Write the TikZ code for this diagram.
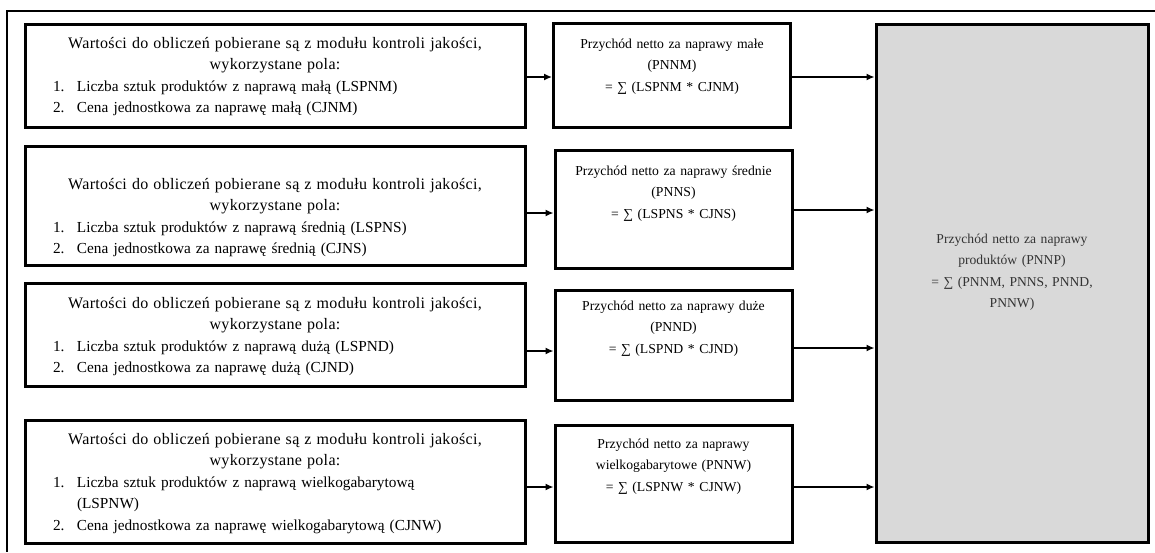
\documentclass[tikz,border=0pt]{standalone}
\usepackage{fontspec}
\setmainfont{Liberation Serif}
\usetikzlibrary{arrows.meta,positioning,calc}

\newcommand\numitem[2]{\par\hangindent=27pt\hangafter=1\noindent\makebox[27pt][l]{\hspace*{3pt}#1}#2}
\newcommand\srcfields[2]{%
  {\centering\fontsize{16}{21.5}\selectfont\addfontfeature{LetterSpace=2}%
   Wartości do obliczeń pobierane są z modułu kontroli jakości,\\ wykorzystane pola:\par}%
  \raggedright\numitem{1.}{#1}\numitem{2.}{#2}}

\begin{document}
\begin{tikzpicture}[x=1pt,y=-1pt,
  box/.style={draw=black, line width=3pt, fill=white, inner sep=0pt},
  lbox/.style={box, minimum width=500pt},
  mbox/.style={box, minimum width=237pt},
  sumbox/.style={draw=black, line width=3pt, fill=black!15, inner sep=0pt},
  ltext/.style={inner sep=0pt, text width=450pt, font=\fontsize{15.3}{21.5}\selectfont},
  mtext/.style={inner sep=0pt, text width=230pt, align=center, font=\fontsize{13.7}{21.5}\selectfont},
  stext/.style={inner sep=0pt, text width=260pt, align=center, text=black!80, font=\fontsize{13.6}{21.5}\selectfont},
  arr/.style={line width=1.4pt, -{Latex[length=8pt,width=7pt]}},
  frame/.style={line width=2pt}]
\useasboundingbox (0,0) rectangle (1155,552);

% outer frame (top and left edges)
\coordinate (fa) at (1155,10.5);
\coordinate (fb) at (7,10.5);
\coordinate (fc) at (7,552);
\draw[frame] (fa) -- (fb) -- (fc);

% source boxes
\node[lbox, minimum height=103pt] (l1) at (275,75.5) {};
\node[lbox, minimum height=119pt] (l2) at (275,205.5) {};
\node[lbox, minimum height=103pt] (l3) at (275,334.5) {};
\node[lbox, minimum height=123pt] (l4) at (275,481.5) {};

\node[ltext, below=14.5pt of l1.north] (t1) {\srcfields{Liczba sztuk produktów z naprawą małą (LSPNM)}{Cena jednostkowa za naprawę małą (CJNM)}};
\node[ltext, below=33.5pt of l2.north] (t2) {\srcfields{Liczba sztuk produktów z naprawą średnią (LSPNS)}{Cena jednostkowa za naprawę średnią (CJNS)}};
\node[ltext, below=15.5pt of l3.north] (t3) {\srcfields{Liczba sztuk produktów z naprawą dużą (LSPND)}{Cena jednostkowa za naprawę dużą (CJND)}};
\node[ltext, below=14.5pt of l4.north] (t4) {\srcfields{Liczba sztuk produktów z naprawą wielkogabarytową\newline(LSPNW)}{Cena jednostkowa za naprawę wielkogabarytową (CJNW)}};

% partial revenue boxes
\node[mbox, minimum height=104pt] (m1) at (672,75) {};
\node[mbox, minimum height=118pt] (m2) at (673.5,209) {};
\node[mbox, minimum height=110pt] (m3) at (673.5,345) {};
\node[mbox, minimum height=117pt] (m4) at (673.5,483.5) {};

\node[mtext, below=17pt of m1.north] (n1) {Przychód netto za naprawy małe\\(PNNM)\\= ∑ (LSPNM * CJNM)};
\node[mtext, below=17pt of m2.north] (n2) {Przychód netto za naprawy średnie\\(PNNS)\\= ∑ (LSPNS * CJNS)};
\node[mtext, below=12pt of m3.north] (n3) {Przychód netto za naprawy duże\\(PNND)\\= ∑ (LSPND * CJND)};
\node[mtext, below=15pt of m4.north] (n4) {Przychód netto za naprawy\\wielkogabarytowe (PNNW)\\= ∑ (LSPNW * CJNW)};

% total revenue box
\node[sumbox, minimum width=272pt, minimum height=518pt] (s) at (1012,283) {};
\node[stext, below=211pt of s.north] (st) {Przychód netto za naprawy\\produktów (PNNP)\\= ∑ (PNNM, PNNS, PNND,\\PNNW)};

% arrow levels
\coordinate (a1) at (0,77);
\coordinate (a2) at (0,213);
\coordinate (a3) at (0,351);
\coordinate (a4) at (0,487);
\coordinate (b1) at (0,77);
\coordinate (b2) at (0,210);
\coordinate (b3) at (0,348);
\coordinate (b4) at (0,487);

\foreach \i in {1,2,3,4}{
  \draw[arr] (l\i.east |- a\i) -- (m\i.west |- a\i);
  \draw[arr] (m\i.east |- b\i) -- (s.west |- b\i);
}
\end{tikzpicture}
\end{document}
